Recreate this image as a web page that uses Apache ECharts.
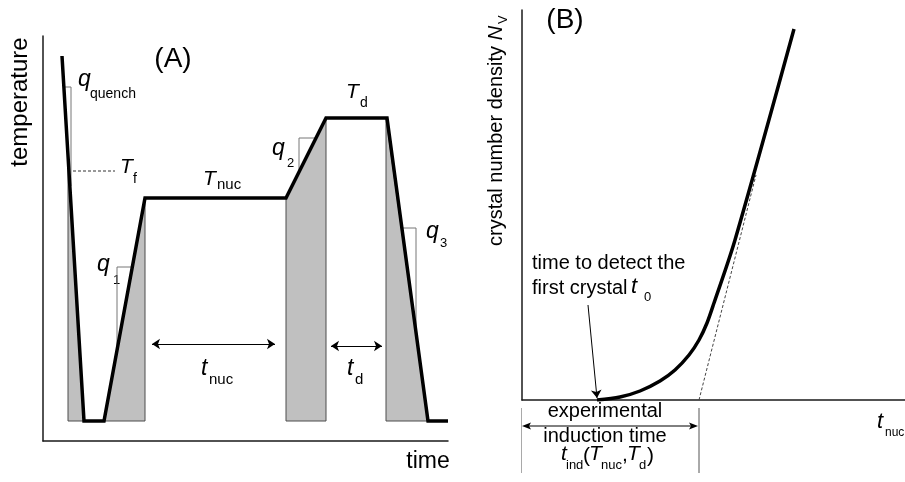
<!DOCTYPE html>
<html>
<head>
<meta charset="utf-8">
<title>nucleation protocol</title>
<script src="https://cdn.jsdelivr.net/npm/echarts@6.0.0/dist/echarts.min.js"></script>
<style>
  html, body { margin: 0; padding: 0; background: #fff; }
  #main { width: 905px; height: 482px; }
</style>
</head>
<body>
<div id="main"></div>
<script>
// (A) temperature programme (time and temperature in plot units)
var profileTime = [19, 41, 61, 102, 243, 283, 344, 385, 405];
var profileTemp = [385, 20, 20, 243, 243, 323, 323, 20, 20];

// grey windows under the profile
var win1Time = [25, 25, 41, 61, 102, 102];
var win1Temp = [20, 286, 20, 20, 243, 20];
var win2Time = [243, 243, 283, 283];
var win2Temp = [20, 243, 323, 20];
var win3Time = [343, 343, 385];
var win3Temp = [20, 323, 20];

// slope triangles q
var qQuenchTime = [21, 28, 28];
var qQuenchTemp = [354, 354, 255];
var q1Time = [89, 74, 74];
var q1Temp = [174, 174, 92];
var q2Time = [272, 256, 256];
var q2Temp = [303, 303, 270];
var q3Time = [360, 373, 373];
var q3Temp = [213, 213, 110];

// T_f dashed marker and the two double arrows
var tfTime = [30, 72];
var tfTemp = [270, 270];
var tNucArrow = [109, 232];
var tNucLevel = 97;
var tDArrow = [288, 339];
var tDLevel = 95;

// (B) crystal number density vs t_nuc
var curveTime = [75, 98, 118, 138, 153, 167, 177, 185, 192, 213, 272];
var curveN = [0, 3, 9, 19, 30, 45, 60, 77, 97, 160, 371];
var tangentTime = [177, 234];
var tangentN = [0, 225];
var pointerTime = [66, 75];
var pointerN = [95, 2];
var indTime = [-1, 177];
var indArrowTime = [0, 176];
var indArrowN = -26;
var indTickN = [-8, -73];

function zip(a, b) {
    return a.map(function (v, i) { return [v, b[i]]; });
}

var windows = [
    { time: win1Time, temp: win1Temp },
    { time: win2Time, temp: win2Temp },
    { time: win3Time, temp: win3Temp }
];

var FONT = '"Liberation Sans", Arial, Helvetica, sans-serif';

// [text, x, baseline, size, italic, align]
var labels = [
    ['(A)', 173, 69, 28, false, 'center'],
    ['time', 428, 470, 23, false, 'center'],
    ['q', 78, 88, 23, true], ['quench', 90, 99, 14],
    ['T', 120, 175, 21, true], ['f', 133, 184, 14],
    ['T', 203, 187, 21, true], ['nuc', 217, 190, 15],
    ['T', 346, 100, 21, true], ['d', 360, 108, 14],
    ['q', 97, 273, 23, true], ['1', 113, 285, 13],
    ['q', 272, 157, 23, true], ['2', 287, 168, 13],
    ['q', 426, 240, 23, true], ['3', 440, 248, 13],
    ['t', 201, 377, 23, true], ['nuc', 209, 385, 15],
    ['t', 347, 377, 23, true], ['d', 355, 385, 15],

    ['(B)', 565, 30, 28, false, 'center'],
    ['time to detect the', 532, 270, 20],
    ['first crystal', 532, 295, 20],
    ['t', 631, 295, 22, true], ['0', 644, 302, 13],
    ['experimental', 605, 418, 20, false, 'center'],
    ['induction time', 605, 443, 20, false, 'center'],
    ['t', 561, 462, 21, true], ['ind', 566, 470, 13], ['(', 583, 464, 21],
    ['T', 589, 462, 21, true], ['nuc', 601, 470, 13], [',', 622, 463, 21],
    ['T', 627, 462, 21, true], ['d', 639, 470, 13], [')', 647, 464, 21],
    ['t', 877, 430, 22, true], ['nuc', 885, 437, 12]
];

function txt(l) {
    var align = l[5] || 'left';
    return {
        type: 'text', x: l[1], y: l[2] - 0.35 * l[3], silent: true,
        style: {
            text: l[0], fontSize: l[3], fontFamily: FONT,
            fontStyle: l[4] ? 'italic' : 'normal', fill: '#000',
            textAlign: align, align: align,
            textVerticalAlign: 'middle', verticalAlign: 'middle'
        }
    };
}

var graphics = labels.map(txt);
graphics.push({
    type: 'text', x: 20, y: 102, rotation: Math.PI / 2, silent: true,
    style: { text: 'temperature', fontSize: 24, fontFamily: FONT, fill: '#000',
        textAlign: 'center', align: 'center', textVerticalAlign: 'middle', verticalAlign: 'middle' }
});
graphics.push({
    type: 'text', x: 496, y: 246, rotation: Math.PI / 2, silent: true,
    style: {
        text: '{a|crystal number density }{n|N}', fontFamily: FONT, fill: '#000',
        textAlign: 'left', align: 'left', textVerticalAlign: 'middle', verticalAlign: 'middle',
        rich: {
            a: { fontSize: 20, fontFamily: FONT },
            n: { fontSize: 20, fontFamily: FONT, fontStyle: 'italic' }
        }
    }
});
graphics.push({
    type: 'text', x: 503, y: 24, rotation: Math.PI / 2, silent: true,
    style: { text: 'V', fontSize: 13, fontFamily: FONT, fill: '#000',
        textAlign: 'left', align: 'left', textVerticalAlign: 'middle', verticalAlign: 'middle' }
});

function axis(grid, max) {
    return {
        type: 'value', gridIndex: grid, min: 0, max: max,
        axisLine: { show: true, onZero: false, lineStyle: { color: '#1a1a1a', width: 1.5 } },
        axisTick: { show: false }, axisLabel: { show: false }, splitLine: { show: false }
    };
}

function thin(data, ax, color, type) {
    return {
        type: 'line', xAxisIndex: ax, yAxisIndex: ax, data: data, symbol: 'none',
        clip: false, silent: true, z: 3,
        lineStyle: { color: color, width: 1, type: type || 'solid' }
    };
}

var arrowStyle = {
    silent: true, symbolSize: 8, label: { show: false },
    lineStyle: { color: '#000', width: 1, type: 'solid' }, emphasis: { disabled: true }
};

// double arrow below the plot area (markLine drops points outside the axes)
function arrowHead(tip, dir) {
    return {
        type: 'polygon',
        shape: { points: [tip, [tip[0] - dir * 9, tip[1] - 3.5], [tip[0] - dir * 7, tip[1]], [tip[0] - dir * 9, tip[1] + 3.5]] },
        style: { fill: '#000' }
    };
}

var chart = echarts.init(document.getElementById('main'));
chart.setOption({
    animation: false,
    backgroundColor: '#fff',
    grid: [
        { left: 43, top: 36, width: 405, height: 405 },
        { left: 522, top: 10, width: 383, height: 390 }
    ],
    xAxis: [axis(0, 405), axis(1, 383)],
    yAxis: [axis(0, 405), axis(1, 390)],
    graphic: graphics,
    series: [
        {
            type: 'custom', xAxisIndex: 0, yAxisIndex: 0, silent: true, z: 1,
            data: windows.map(function (w) { return [w.time[0], w.temp[0]]; }),
            renderItem: function (params, api) {
                var w = windows[params.dataIndex];
                var pts = w.time.map(function (t, i) { return api.coord([t, w.temp[i]]); });
                return {
                    type: 'polygon', shape: { points: pts },
                    style: { fill: '#c0c0c0', stroke: '#4d4d4d', lineWidth: 1 }
                };
            }
        },
        thin(zip(qQuenchTime, qQuenchTemp), 0, '#777'),
        thin(zip(q1Time, q1Temp), 0, '#777'),
        thin(zip(q2Time, q2Temp), 0, '#777'),
        thin(zip(q3Time, q3Temp), 0, '#777'),
        Object.assign(thin(zip(tfTime, tfTemp), 0, '#333', [3, 2]), {
            markLine: Object.assign({
                symbol: ['arrow', 'arrow'],
                data: [
                    [{ coord: [tNucArrow[0], tNucLevel] }, { coord: [tNucArrow[1], tNucLevel] }],
                    [{ coord: [tDArrow[0], tDLevel] }, { coord: [tDArrow[1], tDLevel] }]
                ]
            }, arrowStyle)
        }),
        {
            type: 'line', xAxisIndex: 0, yAxisIndex: 0, data: zip(profileTime, profileTemp),
            symbol: 'none', silent: true, z: 5,
            lineStyle: { color: '#000', width: 3.5, cap: 'butt', join: 'miter' }
        },

        thin(zip(tangentTime, tangentN), 1, '#444', [3, 2]),
        thin([[indTime[0], indTickN[0]], [indTime[0], indTickN[1]]], 1, '#555'),
        thin([[indTime[1], indTickN[0]], [indTime[1], indTickN[1]]], 1, '#555'),
        {
            type: 'custom', xAxisIndex: 1, yAxisIndex: 1, silent: true, clip: false, z: 3,
            data: [[indArrowTime[0], indArrowN, indArrowTime[1]]],
            renderItem: function (params, api) {
                var a = api.coord([api.value(0), api.value(1)]);
                var b = api.coord([api.value(2), api.value(1)]);
                return {
                    type: 'group',
                    children: [
                        { type: 'line', shape: { x1: a[0] + 6, y1: a[1], x2: b[0] - 6, y2: b[1] },
                          style: { stroke: '#000', lineWidth: 1 } },
                        arrowHead(a, -1),
                        arrowHead(b, 1)
                    ]
                };
            }
        },
        Object.assign(thin([], 1, '#000'), {
            markLine: Object.assign({
                symbol: ['none', 'arrow'],
                data: [
                    [{ coord: [pointerTime[0], pointerN[0]] }, { coord: [pointerTime[1], pointerN[1]] }]
                ]
            }, arrowStyle)
        }),
        {
            type: 'line', xAxisIndex: 1, yAxisIndex: 1, data: zip(curveTime, curveN),
            symbol: 'none', smooth: 0.3, silent: true, z: 5,
            lineStyle: { color: '#000', width: 3.5 }
        }
    ]
});
</script>
</body>
</html>
